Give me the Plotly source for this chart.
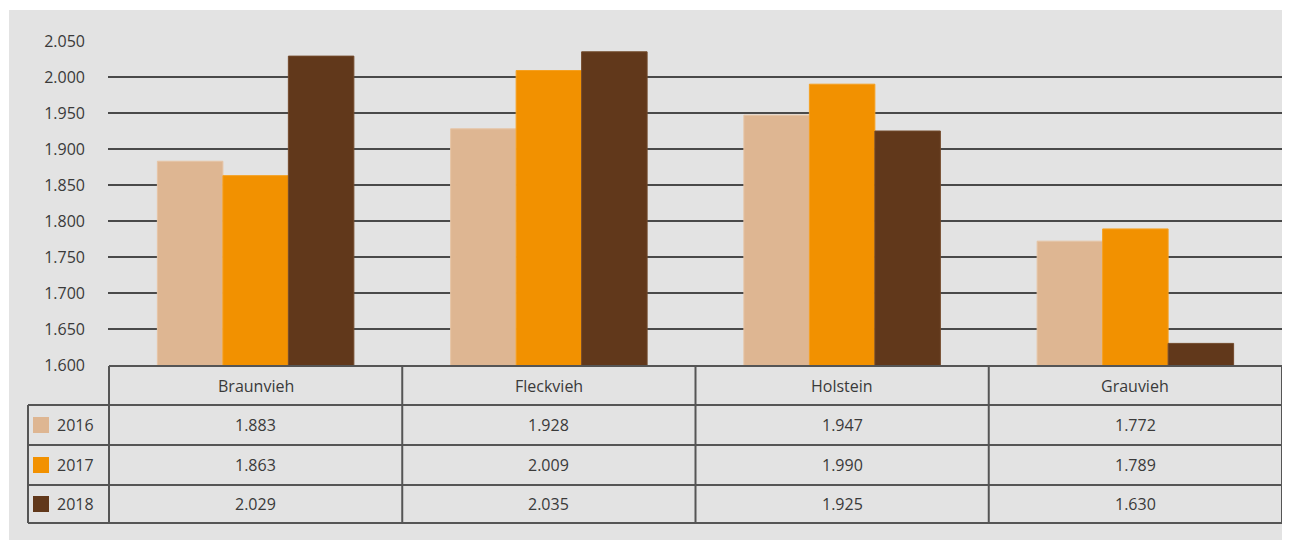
import plotly.graph_objects as go

categories = ["Braunvieh", "Fleckvieh", "Holstein", "Grauvieh"]
years = ["2016", "2017", "2018"]
values_2016 = [1883, 1928, 1947, 1772]
values_2017 = [1863, 2009, 1990, 1789]
values_2018 = [2029, 2035, 1925, 1630]
colors = ["#deb692", "#f29100", "#61381b"]
line_colors = ["#e6c4a4", "#f5a020", "#734a2c"]

series = [values_2016, values_2017, values_2018]

# page body has an 8px margin; work in reference-page pixels and shift
OFF = 8
W, H = 1290 - OFF, 540 - OFF
ML, MR, MT, MB = 108 - OFF, 7, 41 - OFF, 175
PH = H - MT - MB
PW = W - ML - MR


def py(p):
    return (H - MB - (p - OFF)) / PH


def px(p):
    return ((p - OFF) - ML) / PW


def fmt(v):
    return f"{v:,}".replace(",", ".")


fig = go.Figure()
for yr, vals, c, lc in zip(years, series, colors, line_colors):
    fig.add_trace(go.Bar(x=categories, y=vals, name=yr, marker_color=c,
                         marker_line=dict(color=lc, width=1), showlegend=False))

FONT = "Open Sans"
TXT = "#3a3a3a"
LINE = "#555555"
FS = 16

shapes = []
# grey background panel
shapes.append(dict(type="rect", xref="paper", yref="paper",
                   x0=px(9), x1=px(1300), y0=py(550), y1=py(10),
                   fillcolor="#e3e3e3", line_width=0, layer="below"))

n = len(categories)
row_tops = [366, 405, 445, 485, 523]
shapes.append(dict(type="line", xref="x", yref="paper", x0=-0.5, x1=n - 0.5,
                   y0=py(row_tops[0]), y1=py(row_tops[0]),
                   line=dict(color=LINE, width=2)))
for r in row_tops[1:]:
    shapes.append(dict(type="line", xref="paper", yref="paper", x0=px(28), x1=1,
                       y0=py(r), y1=py(r), line=dict(color=LINE, width=2)))
for i in range(n + 1):
    shapes.append(dict(type="line", xref="x", yref="paper", x0=i - 0.5, x1=i - 0.5,
                       y0=py(row_tops[0]), y1=py(row_tops[-1]),
                       line=dict(color=LINE, width=2)))
shapes.append(dict(type="line", xref="paper", yref="paper", x0=px(28), x1=px(28),
                   y0=py(row_tops[1]), y1=py(row_tops[-1]),
                   line=dict(color=LINE, width=2)))

annotations = []
for i, cat in enumerate(categories):
    annotations.append(dict(x=cat, xref="x", yref="paper",
                            y=py((row_tops[0] + row_tops[1]) / 2),
                            text=cat, showarrow=False, xanchor="center", yanchor="middle",
                            font=dict(family=FONT, size=FS, color=TXT)))
for j, (yr, vals, c) in enumerate(zip(years, series, colors)):
    yc = py((row_tops[j + 1] + row_tops[j + 2]) / 2)
    shapes.append(dict(type="rect", xref="paper", yref="paper",
                       x0=px(33), x1=px(49), y0=yc - 8 / PH, y1=yc + 8 / PH,
                       fillcolor=c, line_width=0))
    annotations.append(dict(x=px(55), xref="paper", yref="paper", y=yc, text=yr,
                            showarrow=False, xanchor="left", yanchor="middle",
                            font=dict(family=FONT, size=FS, color=TXT)))
    for i, cat in enumerate(categories):
        annotations.append(dict(x=cat, xref="x", yref="paper", y=yc, text=fmt(vals[i]),
                                showarrow=False, xanchor="center", yanchor="middle",
                                font=dict(family=FONT, size=FS, color=TXT)))

fig.update_layout(
    width=W, height=H,
    margin=dict(l=ML, r=MR, t=MT, b=MB),
    paper_bgcolor="white",
    plot_bgcolor="rgba(0,0,0,0)",
    barmode="group", bargap=0.33, bargroupgap=0,
    separators=",.",
    shapes=shapes, annotations=annotations,
    font=dict(family=FONT, size=FS, color=TXT),
)
fig.update_xaxes(showticklabels=False, showgrid=False, zeroline=False, showline=False)
fig.update_yaxes(range=[1600, 2050], dtick=50, tickformat=",d",
                 showgrid=True, gridcolor="#4a4a4a", gridwidth=2,
                 zeroline=False, showline=False, ticks="",
                 ticklabelstandoff=22,
                 tickfont=dict(family=FONT, size=FS, color=TXT))

fig.write_html("out.html")
